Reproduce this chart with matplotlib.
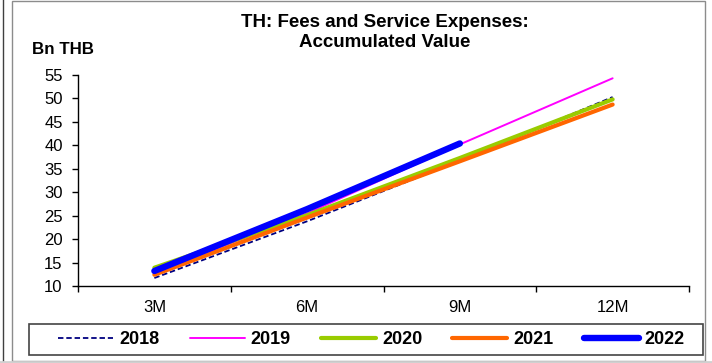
import numpy as np
import matplotlib.pyplot as plt
from matplotlib.patches import Rectangle
from matplotlib.lines import Line2D

plt.rcParams['font.family'] = ['Liberation Sans', 'DejaVu Sans']

# accumulated fees and service expenses, Bn THB
periods = ['3M', '6M', '9M', '12M']
years = ['2018', '2019', '2020', '2021', '2022']
v2018 = [11.7, 23.8, 36.7, 50.3]
v2019 = [12.8, 25.5, 40.2, 54.3]
v2020 = [13.9, 25.1, 37.3, 49.8]
v2021 = [12.4, 24.6, 36.6, 48.7]
v2022 = [13.2, 26.4, 40.4]

series = [v2018, v2019, v2020, v2021, v2022]
colors = ['#000080', '#FF00FF', '#99CC00', '#FF6600', '#0000FF']
widths = [1.3, 1.4, 3.0, 3.0, 4.6]
styles = ['--', '-', '-', '-', '-']

W, H = 712, 363
fig = plt.figure(figsize=(W / 100, H / 100), dpi=100)


def px(x0, y0):
    # pixel position (from top-left) -> figure fraction
    return x0 / W, 1 - y0 / H


# chart frame
fig.patches.append(Rectangle((12 / W, 2 / H), 693 / W, 360 / H, transform=fig.transFigure,
                             fill=False, edgecolor='#8c8c8c', lw=1.0))
fig.add_artist(Line2D([3 / W, 3 / W], [0, 1], transform=fig.transFigure, color='#404040', lw=1.0))
fig.add_artist(Line2D([0, 1], [1 / H, 1 / H], transform=fig.transFigure, color='#d0d0d0', lw=2.0))

ax = fig.add_axes([78 / W, 1 - 286 / H, 611 / W, 211 / H])

x = np.arange(len(periods))
handles = []
for name, vals, c, lw, ls in zip(years, series, colors, widths, styles):
    h, = ax.plot(x[:len(vals)], vals, color=c, lw=lw, ls=ls, solid_capstyle='round',
                 dashes=(3, 1.6) if ls == '--' else (None, None), label=name)
    handles.append(h)

ax.set_xlim(-0.5, len(periods) - 0.5)
ax.set_ylim(10, 55)
ax.set_yticks(np.arange(10, 56, 5))
ax.set_xticks(np.arange(-0.5, len(periods), 1.0))
ax.set_xticklabels([])
ax.set_xticks(x, minor=True)
ax.set_xticklabels(periods, minor=True)
ax.tick_params(axis='x', which='minor', length=0, pad=10, labelsize=12)
ax.tick_params(axis='x', which='major', length=4, direction='out', width=1)
ax.tick_params(axis='y', length=4, direction='out', width=1, labelsize=12, pad=7)

for s in ['top', 'right']:
    ax.spines[s].set_visible(False)
for s in ['left', 'bottom']:
    ax.spines[s].set_linewidth(1.0)

fig.text(*px(385, 32.5), 'TH: Fees and Service Expenses:\nAccumulated Value',
         ha='center', va='center', fontsize=13.5, fontweight='bold', linespacing=1.25)
fig.text(*px(32, 50), 'Bn THB', ha='left', va='center', fontsize=12.2, fontweight='bold')

# legend box along the bottom
fig.patches.append(Rectangle(px(29, 355), 674 / W, 31 / H, transform=fig.transFigure,
                             fill=False, edgecolor='#444444', lw=1.2))
fig.legend(handles=handles, loc='center', ncol=5, bbox_to_anchor=px(371.5, 339.5),
           prop={'weight': 'bold', 'size': 13}, frameon=False,
           handlelength=3.05, columnspacing=1.67, handletextpad=0.33, borderpad=0.0)

fig.savefig('out.png', dpi=100)
